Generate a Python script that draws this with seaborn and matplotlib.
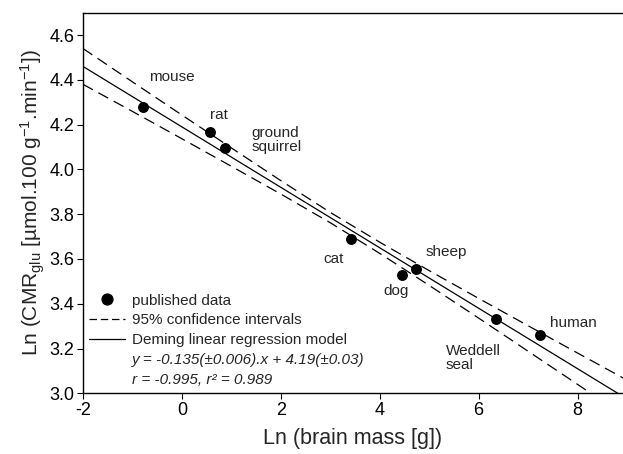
import matplotlib
matplotlib.use("Agg")
import matplotlib.pyplot as plt
import seaborn as sns
import numpy as np
import pandas as pd
from matplotlib.lines import Line2D

# ---- data ----
species = ["mouse", "rat", "ground squirrel", "cat", "dog", "sheep", "Weddell seal", "human"]
ln_brain_mass = [-0.79, 0.57, 0.88, 3.41, 4.45, 4.73, 6.36, 7.25]
ln_cmr_glu = [4.277, 4.166, 4.096, 3.689, 3.527, 3.555, 3.332, 3.259]

# Deming regression model shown in the chart: y = -0.135 x + 4.19
slope = -0.135
intercept = 4.19
model_x = [-2.0, 9.0]

# 95% confidence interval curves
ci_x = [-2, -1, 0, 1, 2, 3, 4, 5, 6, 7, 8, 9]
ci_upper = [4.540, 4.391, 4.243, 4.096, 3.950, 3.808, 3.675, 3.548, 3.424, 3.302, 3.180, 3.059]
ci_lower = [4.380, 4.259, 4.137, 4.014, 3.890, 3.762, 3.625, 3.482, 3.336, 3.188, 3.040, 2.891]

# label anchors (data coordinates)
label_text = ["mouse", "rat", "ground\nsquirrel", "cat", "dog", "sheep", "Weddell\nseal", "human"]
label_x = [-0.67, 0.57, 1.41, 2.87, 4.07, 4.92, 5.33, 7.45]
label_y = [4.412, 4.242, 4.13, 3.60, 3.457, 3.629, 3.157, 3.316]

x_ticks = [-2, 0, 2, 4, 6, 8]
y_ticks = [3.0, 3.2, 3.4, 3.6, 3.8, 4.0, 4.2, 4.4, 4.6]

# ---- styling ----
sns.set_style("ticks")
plt.rcParams["font.family"] = ["Liberation Sans", "DejaVu Sans"]
plt.rcParams["axes.unicode_minus"] = False
plt.rcParams["mathtext.fontset"] = "custom"
plt.rcParams["mathtext.rm"] = "Liberation Sans"
plt.rcParams["mathtext.it"] = "Liberation Sans:italic"
plt.rcParams["mathtext.bf"] = "Liberation Sans:bold"

fig = plt.figure(figsize=(6.23, 4.54), dpi=100)
ax = fig.add_axes([83 / 623, 1 - 393.3 / 454, 539.5 / 623, (393.3 - 12.7) / 454])

pts = pd.DataFrame({"x": ln_brain_mass, "y": ln_cmr_glu, "species": species})
model_df = pd.DataFrame({"x": model_x, "y": [slope * v + intercept for v in model_x]})
ci_df = pd.DataFrame({"x": ci_x, "upper": ci_upper, "lower": ci_lower})

lw = 0.9
sns.lineplot(data=model_df, x="x", y="y", color="black", lw=lw, ax=ax)
sns.lineplot(data=ci_df, x="x", y="upper", color="black", lw=lw, ax=ax, dashes=False)
sns.lineplot(data=ci_df, x="x", y="lower", color="black", lw=lw, ax=ax, dashes=False)
for ln in ax.lines[1:3]:
    ln.set_dashes((9, 5))
sns.scatterplot(data=pts, x="x", y="y", color="black", s=62, edgecolor="black",
                linewidth=0, ax=ax, zorder=5)

for t, lx, ly in zip(label_text, label_x, label_y):
    ax.text(lx, ly, t, fontsize=11, ha="left", va="center", linespacing=1.0)

ax.set_xlim(-2, 8.91)
ax.set_ylim(3.0, 4.7)
ax.set_xticks(x_ticks)
ax.set_xticklabels([str(v) for v in x_ticks])
ax.set_yticks(y_ticks)
ax.set_yticklabels([f"{v:.1f}" for v in y_ticks])
ax.tick_params(axis="both", direction="out", length=4, width=0.8, labelsize=13, pad=2,
               color="black", labelcolor="black")
for side in ["left", "bottom", "top"]:
    ax.spines[side].set_visible(True)
    ax.spines[side].set_linewidth(1.0)
    ax.spines[side].set_color("black")
ax.spines["right"].set_visible(False)

ax.set_xlabel("Ln (brain mass [g])", fontsize=15.5, labelpad=7)
ax.set_ylabel(r"Ln (CMR$_{\mathrm{glu}}$ [µmol.100 g$^{-1}$.min$^{-1}$])", fontsize=15, labelpad=2)

handles = [
    Line2D([], [], marker="o", color="black", ls="none", markersize=7.8),
    Line2D([], [], color="black", lw=lw, dashes=(6, 3)),
    Line2D([], [], color="black", lw=lw),
    Line2D([], [], color="none"),
    Line2D([], [], color="none"),
]
labels = [
    "published data",
    "95% confidence intervals",
    "Deming linear regression model",
    "y = -0.135(±0.006).x + 4.19(±0.03)",
    "r = -0.995, r\u00b2 = 0.989",
]
leg = ax.legend(handles, labels, loc="upper left", bbox_to_anchor=(0.012, 0.262),
                frameon=False, fontsize=11, handlelength=2.3, handletextpad=0.5,
                labelspacing=0.38, borderpad=0, borderaxespad=0)
for txt in leg.get_texts()[3:]:
    txt.set_style("italic")

fig.savefig("out.png", dpi=100)
